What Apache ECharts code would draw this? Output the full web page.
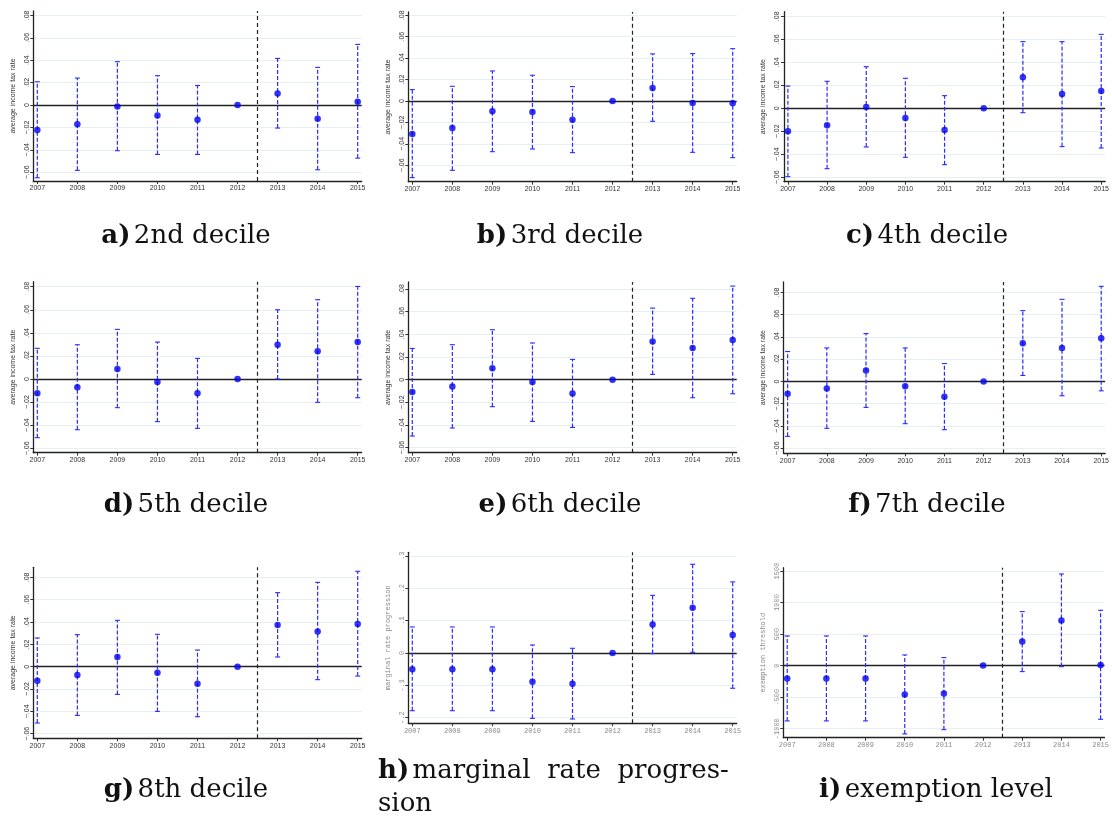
<!DOCTYPE html>
<html><head><meta charset="utf-8">
<script src="https://cdn.jsdelivr.net/npm/echarts@6/dist/echarts.min.js"></script>
<style>html,body{margin:0;padding:0;background:#fff}#c{width:1112px;height:818px}</style>
</head><body><div id="c"></div>
<script>
const years = [2007, 2008, 2009, 2010, 2011, 2012, 2013, 2014, 2015];

// a) 2nd decile
const a_est = [-0.0223, -0.0172, -0.0012, -0.0092, -0.0131, 0, 0.0104, -0.0122, 0.0030];
const a_lo  = [-0.0648, -0.0582, -0.0407, -0.0440, -0.0440, null, -0.0205, -0.0577, -0.0473];
const a_hi  = [0.0208, 0.0241, 0.0387, 0.0262, 0.0175, null, 0.0416, 0.0336, 0.0541];
// b) 3rd decile
const b_est = [-0.0308, -0.0252, -0.0096, -0.0103, -0.0174, 0, 0.0121, -0.0019, -0.0022];
const b_lo  = [-0.0715, -0.0647, -0.0473, -0.0448, -0.0482, null, -0.0190, -0.0479, -0.0529];
const b_hi  = [0.0106, 0.0137, 0.0280, 0.0240, 0.0134, null, 0.0439, 0.0442, 0.0488];
// c) 4th decile
const c_est = [-0.0200, -0.0148, 0.0012, -0.0084, -0.0188, 0, 0.0270, 0.0125, 0.0151];
const c_lo  = [-0.0594, -0.0525, -0.0336, -0.0426, -0.0490, null, -0.0038, -0.0333, -0.0345];
const c_hi  = [0.0194, 0.0235, 0.0362, 0.0261, 0.0110, null, 0.0580, 0.0580, 0.0643];
// d) 5th decile
const d_est = [-0.0124, -0.0072, 0.0087, -0.0026, -0.0124, 0, 0.0297, 0.0240, 0.0320];
const d_lo  = [-0.0508, -0.0439, -0.0248, -0.0369, -0.0427, null, 0.0000, -0.0202, -0.0162];
const d_hi  = [0.0266, 0.0297, 0.0430, 0.0320, 0.0179, null, 0.0600, 0.0687, 0.0802];
// e) 6th decile
const e_est = [-0.0109, -0.0059, 0.0100, -0.0021, -0.0121, 0, 0.0338, 0.0279, 0.0350];
const e_lo  = [-0.0497, -0.0426, -0.0238, -0.0368, -0.0421, null, 0.0047, -0.0159, -0.0124];
const e_hi  = [0.0276, 0.0309, 0.0441, 0.0324, 0.0179, null, 0.0632, 0.0718, 0.0826];
// f) 7th decile
const f_est = [-0.0110, -0.0063, 0.0099, -0.0042, -0.0137, 0, 0.0343, 0.0301, 0.0388];
const f_lo  = [-0.0493, -0.0421, -0.0233, -0.0379, -0.0433, null, 0.0054, -0.0128, -0.0084];
const f_hi  = [0.0269, 0.0301, 0.0430, 0.0301, 0.0161, null, 0.0636, 0.0737, 0.0854];
// g) 8th decile
const g_est = [-0.0125, -0.0075, 0.0087, -0.0054, -0.0152, 0, 0.0373, 0.0316, 0.0382];
const g_lo  = [-0.0504, -0.0436, -0.0248, -0.0400, -0.0448, null, 0.0087, -0.0116, -0.0084];
const g_hi  = [0.0257, 0.0287, 0.0415, 0.0290, 0.0149, null, 0.0663, 0.0755, 0.0854];
// h) marginal rate progression
const h_est = [-0.0505, -0.0505, -0.0505, -0.0887, -0.0948, 0, 0.0876, 0.1400, 0.0557];
const h_lo  = [-0.1784, -0.1784, -0.1784, -0.2020, -0.2040, null, -0.0020, 0.0020, -0.1090];
const h_hi  = [0.0804, 0.0804, 0.0804, 0.0247, 0.0144, null, 0.1780, 0.2740, 0.2196];
// i) exemption level
const i_est = [-206, -206, -206, -460, -444, 0, 381, 714, 11];
const i_lo  = [-877, -877, -877, -1083, -1015, null, -95, -16, -851];
const i_hi  = [470, 470, 470, 169, 127, null, 856, 1453, 877];

const decileTicks = [-0.06, -0.04, -0.02, 0, 0.02, 0.04, 0.06, 0.08];
const decileTickLabels = ['\u2212.06', '\u2212.04', '\u2212.02', '0', '.02', '.04', '.06', '.08'];
const mrpTicks = [-0.2, -0.1, 0, 0.1, 0.2, 0.3];
const mrpTickLabels = ['-.2', '-.1', '0', '.1', '.2', '.3'];
const exTicks = [-1000, -500, 0, 500, 1000, 1500];
const exTickLabels = ['-1000', '-500', '0', '500', '1000', '1500'];

const decileTitle = 'average income tax rate';
const captions = [
  ['a)', '2nd decile'], ['b)', '3rd decile'], ['c)', '4th decile'],
  ['d)', '5th decile'], ['e)', '6th decile'], ['f)', '7th decile'],
  ['g)', '8th decile'], ['h)', 'marginal  rate  progres-'], ['i)', 'exemption level']
];
const captionCont = 'sion';
const treatmentBreak = 2012.5;

// ---- layout (positions / ranges) ----
const panels = [
  {est:a_est, lo:a_lo, hi:a_hi, ticks:decileTicks, labels:decileTickLabels, name:decileTitle, mono:false, L:33.3, T:11, H:170, ymin:-0.0677, ymax:0.0839},
  {est:b_est, lo:b_lo, hi:b_hi, ticks:decileTicks, labels:decileTickLabels, name:decileTitle, mono:false, L:408.3, T:12, H:169.7, ymin:-0.0753, ymax:0.083},
  {est:c_est, lo:c_lo, hi:c_hi, ticks:decileTicks, labels:decileTickLabels, name:decileTitle, mono:false, L:784, T:11.7, H:170, ymin:-0.0638, ymax:0.084},
  {est:d_est, lo:d_lo, hi:d_hi, ticks:decileTicks, labels:decileTickLabels, name:decileTitle, mono:false, L:33.3, T:281.7, H:171, ymin:-0.0638, ymax:0.0843},
  {est:e_est, lo:e_lo, hi:e_hi, ticks:decileTicks, labels:decileTickLabels, name:decileTitle, mono:false, L:408.3, T:282, H:170.7, ymin:-0.0644, ymax:0.0862},
  {est:f_est, lo:f_lo, hi:f_hi, ticks:decileTicks, labels:decileTickLabels, name:decileTitle, mono:false, L:783.7, T:282, H:171.3, ymin:-0.0645, ymax:0.0893},
  {est:g_est, lo:g_lo, hi:g_hi, ticks:decileTicks, labels:decileTickLabels, name:decileTitle, mono:false, L:33.3, T:567.3, H:171, ymin:-0.0641, ymax:0.089},
  {est:h_est, lo:h_lo, hi:h_hi, ticks:mrpTicks, labels:mrpTickLabels, name:'marginal rate progression', mono:true, L:408.3, T:552.3, H:171, ymin:-0.2173, ymax:0.311},
  {est:i_est, lo:i_lo, hi:i_hi, ticks:exTicks, labels:exTickLabels, name:'exemption threshold', mono:true, L:783.3, T:567.7, H:170, ymin:-1143, ymax:1552}
];
const capPos = [
  [186, 236], [560, 236], [927, 236],
  [186, 505], [560, 505], [927, 505],
  [186, 790], [378, 771], [936, 790]
];

const PW = 328.4;
const SANS = 'Liberation Sans';
const MONO = 'Liberation Mono';
const SERIF = 'DejaVu Serif';

const grid = [], xAxis = [], yAxis = [], series = [], graphic = [];

panels.forEach((p, k) => {
  const font = p.mono ? MONO : SANS;
  const lblColor = p.mono ? '#8a8a8a' : '#333';
  grid.push({left: p.L, top: p.T, width: PW, height: p.H, containLabel: false});
  xAxis.push({
    type: 'value', gridIndex: k, min: 2006.9, max: 2015.1,
    axisLine: {show: true, onZero: false, lineStyle: {color: '#222', width: 1.3}},
    axisTick: {show: true, length: 3, customValues: years, lineStyle: {color: '#333'}},
    axisLabel: {customValues: years, formatter: v => String(Math.round(v)), fontFamily: font, fontSize: 7, color: lblColor, margin: 4},
    splitLine: {show: false}
  });
  yAxis.push({
    type: 'value', gridIndex: k, min: p.ymin, max: p.ymax,
    name: p.name, nameLocation: 'middle', nameGap: 17, nameRotate: 90,
    nameTextStyle: {fontFamily: font, fontSize: 7, color: lblColor},
    axisLine: {show: true, onZero: false, lineStyle: {color: '#222', width: 1.3}},
    axisTick: {show: true, length: 3, customValues: p.ticks, lineStyle: {color: '#333'}},
    axisLabel: {customValues: p.ticks, rotate: 90, fontFamily: font, fontSize: 7, color: lblColor, margin: 3,
      formatter: v => { const j = p.ticks.findIndex(t => Math.abs(t - v) < 1e-9); return j >= 0 ? p.labels[j] : ''; }},
    splitLine: {show: true, lineStyle: {color: '#e6eff1', width: 1}}
  });
  const ci = [];
  years.forEach((y, j) => { if (p.lo[j] != null && p.hi[j] != null) ci.push([y, p.lo[j], p.hi[j]]); });
  series.push({
    type: 'custom', xAxisIndex: k, yAxisIndex: k, data: ci, z: 3, silent: true,
    renderItem: (params, api) => {
      const x = api.value(0), lo = api.value(1), hi = api.value(2);
      const a = api.coord([x, lo]), b = api.coord([x, hi]);
      const cw = 2.5, col = '#2b2bff';
      return {type: 'group', children: [
        {type: 'line', shape: {x1: a[0], y1: a[1], x2: b[0], y2: b[1]}, style: {stroke: col, lineWidth: 1.2, lineDash: [4, 2]}},
        {type: 'line', shape: {x1: a[0] - cw, y1: a[1], x2: a[0] + cw, y2: a[1]}, style: {stroke: col, lineWidth: 1.1}},
        {type: 'line', shape: {x1: b[0] - cw, y1: b[1], x2: b[0] + cw, y2: b[1]}, style: {stroke: col, lineWidth: 1.1}}
      ]};
    }
  });
  series.push({
    type: 'scatter', xAxisIndex: k, yAxisIndex: k, z: 4, silent: true,
    data: years.map((y, j) => [y, p.est[j]]),
    symbol: 'circle', symbolSize: 6.5, itemStyle: {color: '#0000f0'},
    markLine: {
      silent: true, symbol: 'none', label: {show: false}, z: 2,
      data: [
        {yAxis: 0, lineStyle: {color: '#222', type: 'solid', width: 1.3}},
        {xAxis: treatmentBreak, lineStyle: {color: '#222', type: [4, 3], width: 1.2}}
      ]
    }
  });
  const [cx, cy] = capPos[k];
  const [lab, txt] = captions[k];
  graphic.push({
    type: 'text', x: cx, y: cy, silent: true,
    style: {
      text: '{b|' + lab + '} {n|' + txt + '}',
      align: k === 7 ? 'left' : 'center', verticalAlign: 'middle',
      rich: {
        b: {fontFamily: SERIF, fontSize: 26, fontWeight: 'bold', fill: '#111'},
        n: {fontFamily: SERIF, fontSize: 26, fill: '#111'}
      }
    }
  });
});
graphic.push({
  type: 'text', x: capPos[7][0], y: 804, silent: true,
  style: {text: captionCont, fontFamily: SERIF, fontSize: 26, fill: '#111', align: 'left', verticalAlign: 'middle'}
});

const chart = echarts.init(document.getElementById('c'), null, {renderer: 'canvas'});
chart.setOption({animation: false, backgroundColor: '#fff', grid, xAxis, yAxis, series, graphic});
</script>
</body></html>
